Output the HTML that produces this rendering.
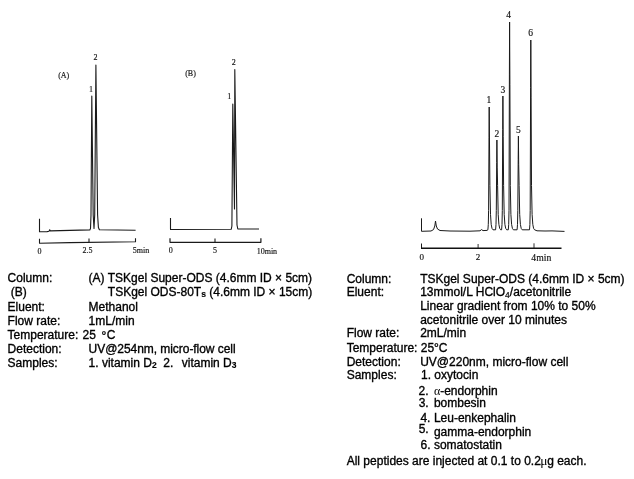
<!DOCTYPE html>
<html><head><meta charset="utf-8">
<style>
html,body{margin:0;padding:0;background:#fff;}
body{width:634px;height:479px;position:relative;overflow:hidden;font-family:"Liberation Sans",sans-serif;color:#111;}
.t{-webkit-text-stroke:0.33px #000;color:#000;position:absolute;white-space:nowrap;font-size:12px;line-height:14px;letter-spacing:0;}
.s{position:absolute;white-space:nowrap;font-family:"Liberation Serif",serif;font-size:8px;line-height:8px;color:#111;-webkit-text-stroke:0.15px #111;}
svg{position:absolute;left:0;top:0;}
sub{font-size:8.5px;vertical-align:baseline;position:relative;top:1.2px;font-weight:bold;-webkit-text-stroke:0.15px #111}
sub.n{font-weight:normal;-webkit-text-stroke:0.2px #111;top:1.6px}

.sy{font-family:'Liberation Serif',serif;-webkit-text-stroke:0}
.c{transform:translate(-50%,-50%);}
</style></head><body>
<svg width="634" height="479" viewBox="0 0 634 479" fill="none" stroke="#1a1a1a" stroke-width="1.1" stroke-linejoin="round">
<!-- panel A -->
<path d="M39.5 218.8 V231.7 L47 231.6 L49 231.2 L49.7 229.8 L50.4 230.9 L70 230.4 L89.8 229.9 L90.5 228.5 L91 215 L91.8 96 L93.2 215 L94 228.5 L94.7 215 L95.9 65 L97.6 215 L98.4 227.5 L99.4 229.8 L135.6 230.2"/>
<path d="M39.5 238.7 V243.3 L70 242.6 L135.5 241.8 V238.3"/>
<path d="M89 238.5 V242.3"/>
<!-- panel B -->
<path d="M170.5 218 V229.5 L231.2 229.3 L231.9 226 L232.8 104 L234.5 209 L234.8 69.5 L237 225 L237.8 229 L259 229"/>
<path d="M170 238.2 V242.3 H260.9 V238.2" stroke-width="1.2"/>
<path d="M215 238.4 V242.2"/>
<!-- panel C -->
<path d="M421.5 218.3 V231.3 L431 231 L433.5 229.6 L434.8 226 L435.5 221 L436.3 226 L437.5 229 L440 230.5 L450 231 L470 231.2 L480 230.8 L481.5 229.6 L483 230.6 L487 230.4 L487.9 229.8 L488.3 224.4 L488.6 210.4 L489.0 137.8 L489.2 107.0 L489.5 144.0 L489.9 185.4 L490.5 214.4 L491.2 224.4 L492.0 228.4 L493.0 229.8 L495.6 229.8 L496.0 224.4 L496.3 210.4 L496.7 162.6 L496.9 140.0 L497.2 167.1 L497.6 185.4 L498.2 214.4 L498.9 224.4 L499.7 228.4 L500.7 229.8 L501.6 229.8 L502.0 224.4 L502.3 210.4 L502.7 129.6 L502.9 96.0 L503.2 136.3 L503.6 185.4 L504.2 214.4 L504.9 224.4 L505.7 228.4 L506.7 229.8 L508.3 229.8 L508.7 224.4 L509.0 210.4 L509.4 74.1 L509.6 22.0 L509.9 84.5 L510.3 185.4 L510.9 214.4 L511.6 224.4 L512.4 228.4 L513.4 229.8 L517.1 229.8 L517.5 224.4 L517.8 210.4 L518.2 159.6 L518.4 136.0 L518.7 164.3 L519.1 185.4 L519.7 214.4 L520.4 224.4 L521.2 228.4 L522.2 229.8 L529.5 229.8 L529.9 224.4 L530.2 210.4 L530.6 87.6 L530.8 40.0 L531.1 97.1 L531.5 185.4 L532.1 214.4 L532.8 224.4 L533.6 228.4 L534.6 229.8 L537 230.8 L545 231 L552 230.9 L564.5 231.4" stroke-width="1"/>
<path d="M421.5 243.5 V248.2" stroke-width="1"/><path d="M421 248.2 H561.5" stroke-width="1.6" stroke="#111"/>
<path d="M478.1 244 V248 M534 243.3 V248" stroke-width="0.9"/>
</svg>
<div class="s c" style="left:63.7px;top:76.2px">(A)</div>
<div class="s c" style="left:190.5px;top:74px">(B)</div>
<div class="s c" style="left:95.6px;top:58px">2</div>
<div class="s c" style="left:91px;top:90px">1</div>
<div class="s c" style="left:233.8px;top:63.3px">2</div>
<div class="s c" style="left:229.3px;top:97.2px">1</div>
<div class="s c" style="left:39.5px;top:251.6px">0</div>
<div class="s c" style="left:87.4px;top:251px">2.5</div>
<div class="s c" style="left:141px;top:251px">5min</div>
<div class="s c" style="left:170.7px;top:251.2px">0</div>
<div class="s c" style="left:215px;top:251.2px">5</div>
<div class="s c" style="left:266.9px;top:252.2px">10min</div>
<div class="s c" style="left:508.7px;top:15.4px;font-size:9.5px">4</div>
<div class="s c" style="left:530.6px;top:33.4px;font-size:9.5px">6</div>
<div class="s c" style="left:502.8px;top:90.3px;font-size:9.5px">3</div>
<div class="s c" style="left:488.8px;top:100.4px;font-size:9.5px">1</div>
<div class="s c" style="left:496.8px;top:133.8px;font-size:9.5px">2</div>
<div class="s c" style="left:518.3px;top:130px;font-size:9.5px">5</div>
<div class="s c" style="left:421.8px;top:256.8px;font-size:9px">0</div>
<div class="s c" style="left:477.9px;top:257.3px;font-size:9px">2</div>
<div class="s c" style="left:541.3px;top:258.2px;font-size:9.7px">4min</div>
<div class="t" style="left:7.6px;top:271px">Column:</div>
<div class="t" style="left:88.6px;top:271px">(A) TSKgel Super-ODS (4.6mm ID × 5cm)</div>
<div class="t" style="left:10.8px;top:285px">(B)</div>
<div class="t" style="left:107.8px;top:285px">TSKgel ODS-80T<sub>s</sub> (4.6mm ID × 15cm)</div>
<div class="t" style="left:7.6px;top:300px">Eluent:</div>
<div class="t" style="left:88.6px;top:300px">Methanol</div>
<div class="t" style="left:7.6px;top:314px">Flow rate:</div>
<div class="t" style="left:88.6px;top:314px">1mL/min</div>
<div class="t" style="left:7.6px;top:328px">Temperature: <span style="margin-left:0.9px">25</span><span style="margin-left:5.5px;position:relative;top:1px">°</span><span style="margin-left:0.5px">C</span></div>
<div class="t" style="left:7.6px;top:342px">Detection:</div>
<div class="t" style="left:88.6px;top:342px"><span style="letter-spacing:-0.05px">UV@254nm, micro-flow cell</span></div>
<div class="t" style="left:7.6px;top:356px">Samples:</div>
<div class="t" style="left:88.6px;top:356px">1. vitamin D<sub>2</sub>&nbsp; 2.&nbsp;<span style="margin-left:1.7px"> </span>vitamin D<sub>3</sub></div>
<div class="t" style="left:346.7px;top:272px">Column:</div>
<div class="t" style="left:420.2px;top:272px">TSKgel Super-ODS (4.6mm ID × 5cm)</div>
<div class="t" style="left:346.7px;top:285px">Eluent:</div>
<div class="t" style="left:420.2px;top:285px">13mmol/L HClO<sub class="n">4</sub>/acetonitrile</div>
<div class="t" style="left:420.2px;top:299px">Linear gradient from 10% to 50%</div>
<div class="t" style="left:420.2px;top:313px">acetonitrile over 10 minutes</div>
<div class="t" style="left:346.7px;top:326px">Flow rate:</div>
<div class="t" style="left:420.2px;top:326px">2mL/min</div>
<div class="t" style="left:346.7px;top:341px">Temperature: 25°C</div>
<div class="t" style="left:346.7px;top:355px">Detection:</div>
<div class="t" style="left:420.2px;top:355px">UV@220nm, micro-flow cell</div>
<div class="t" style="left:346.7px;top:368px">Samples:</div>
<div class="t" style="left:421.0px;top:368px">1.</div>
<div class="t" style="left:434.29999999999995px;top:368px">oxytocin</div>
<div class="t" style="left:418.5px;top:384px">2.</div>
<div class="t" style="left:433.9px;top:384px"><span class="sy">α</span>-endorphin</div>
<div class="t" style="left:418.7px;top:396px">3.</div>
<div class="t" style="left:433.9px;top:396px">bombesin</div>
<div class="t" style="left:420.4px;top:411px">4.</div>
<div class="t" style="left:433.9px;top:411px">Leu-enkephalin</div>
<div class="t" style="left:418.7px;top:422px">5.</div>
<div class="t" style="left:433.9px;top:425px">gamma-endorphin</div>
<div class="t" style="left:420.6px;top:438px">6.</div>
<div class="t" style="left:433.9px;top:438px">somatostatin</div>
<div class="t" style="left:346.7px;top:454px">All peptides are injected at 0.1 to 0.2<span class="sy" style="font-size:13.5px;margin-left:-0.6px;letter-spacing:-0.3px">μ</span>g each.</div>
</body></html>
